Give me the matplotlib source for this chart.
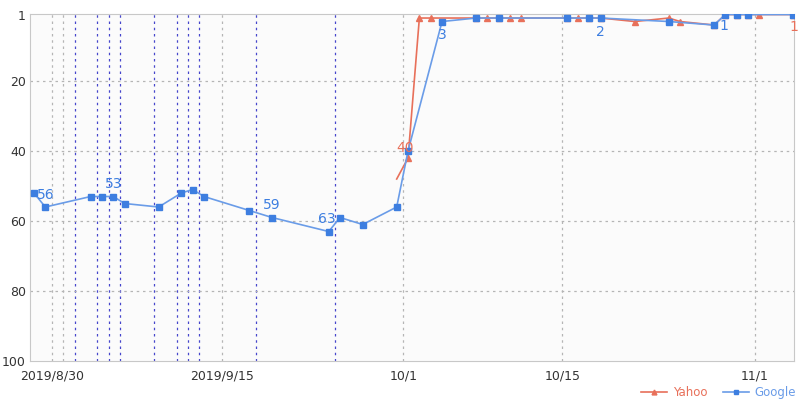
import matplotlib
matplotlib.use('Agg')
import matplotlib.pyplot as plt
import pandas as pd

start = pd.Timestamp('2019-08-30')

google_dates = ['2019-08-30', '2019-08-31', '2019-09-04', '2019-09-05', '2019-09-06', '2019-09-07',
                '2019-09-10', '2019-09-12', '2019-09-13', '2019-09-14', '2019-09-18', '2019-09-20',
                '2019-09-25', '2019-09-26', '2019-09-28', '2019-10-01', '2019-10-02', '2019-10-05',
                '2019-10-08', '2019-10-10', '2019-10-16', '2019-10-18', '2019-10-19', '2019-10-25',
                '2019-10-29', '2019-10-30', '2019-10-31', '2019-11-01', '2019-11-05']
google_rank = [52, 56, 53, 53, 53, 55,
               56, 52, 51, 53, 57, 59,
               63, 59, 61, 56, 40, 3,
               2, 2, 2, 2, 2, 3,
               4, 1, 1, 1, 1]

yahoo_dates = ['2019-10-01', '2019-10-02', '2019-10-03', '2019-10-04', '2019-10-08', '2019-10-09',
               '2019-10-10', '2019-10-11', '2019-10-12', '2019-10-16', '2019-10-17', '2019-10-18',
               '2019-10-19', '2019-10-22', '2019-10-25', '2019-10-26', '2019-10-29', '2019-10-30',
               '2019-10-31', '2019-11-01', '2019-11-02', '2019-11-05']
yahoo_rank = [48, 42, 2, 2, 2, 2,
              2, 2, 2, 2, 2, 2,
              2, 3, 2, 3, 4, 1,
              1, 1, 1, 1]

# data labels shown on the chart: (date, text)
google_labels = [('2019-08-31', '56'), ('2019-09-06', '53'), ('2019-09-20', '59'),
                 ('2019-09-25', '63'), ('2019-10-05', '3'), ('2019-10-19', '2'), ('2019-10-30', '1')]
yahoo_labels = [('2019-10-02', '40'), ('2019-11-05', '1')]

# blue dotted marker lines (update days)
event_dates = ['2019-09-02', '2019-09-04', '2019-09-05', '2019-09-06', '2019-09-09',
               '2019-09-11', '2019-09-12', '2019-09-13', '2019-09-18', '2019-09-25']
grid_dates = ['2019-08-31', '2019-09-01', '2019-09-15', '2019-10-01', '2019-10-15', '2019-11-01']
tick_dates = ['2019-08-31', '2019-09-15', '2019-10-01', '2019-10-15', '2019-11-01']
tick_labels = ['2019/8/30', '2019/9/15', '10/1', '10/15', '11/1']


def day(d):
    return (pd.Timestamp(d) - start).days


GRID_SHIFT = 0.6
c_google = '#3d7ee0'
c_google_line = '#6a9ce8'
c_yahoo = '#e8705a'

fig = plt.figure(figsize=(8, 4), dpi=100)
ax = fig.add_axes([30 / 800, 1 - 361 / 400, 764 / 800, (361 - 14) / 400])
ax.set_facecolor('#fbfbfb')

for d in grid_dates:
    ax.axvline(day(d) + GRID_SHIFT, color='#b5b5b5', lw=0.9, ls=(0, (2, 3)), zorder=1)
for d in event_dates:
    ax.axvline(day(d) + GRID_SHIFT, color='#4646cc', lw=0.9, ls=(0, (2, 3)), zorder=1)
for v in [20, 40, 60, 80]:
    ax.axhline(v, color='#b5b5b5', lw=0.9, ls=(0, (2, 3)), zorder=1)

yx = [day(d) for d in yahoo_dates]
gx = [day(d) for d in google_dates]
ax.plot(yx, yahoo_rank, color=c_yahoo, lw=1.2, marker='^', ms=5, mfc=c_yahoo, mec=c_yahoo,
        markevery=list(range(1, len(yx))), label='Yahoo', zorder=3)
ax.plot(gx, google_rank, color=c_google_line, lw=1.2, marker='s', ms=4.2, mfc=c_google, mec=c_google,
        label='Google', zorder=4)

gmap = dict(zip(google_dates, google_rank))
goff = {'56': (0, 9), '53': (0, 9), '59': (0, 9), '63': (-1, 9), '3': (0, -10), '2': (0, -10), '1': (-1, -8)}
for d, t in google_labels:
    dx, dy = goff[t]
    ax.annotate(t, (day(d), gmap[d]), xytext=(dx, dy), textcoords='offset points',
                ha='center', va='center', color=c_google, fontsize=10, zorder=5)
ymap = dict(zip(yahoo_dates, yahoo_rank))
yoff = {'40': (-2, 7), '1': (0, -9)}
for d, t in yahoo_labels:
    dx, dy = yoff[t]
    ax.annotate(t, (day(d), ymap[d]), xytext=(dx, dy), textcoords='offset points',
                ha='center', va='center', color=c_yahoo, fontsize=10, zorder=5)

ax.set_ylim(100, 0.85)
ax.set_xlim(-0.35, 67.05)
ax.set_yticks([1, 20, 40, 60, 80, 100])
ax.set_xticks([day(d) + GRID_SHIFT for d in tick_dates])
ax.set_xticklabels(tick_labels)
ax.tick_params(length=0, labelsize=9, colors='#333333')
ax.tick_params(axis='x', pad=6)
ax.tick_params(axis='y', pad=3)
for s in ['left', 'bottom', 'top', 'right']:
    ax.spines[s].set_color('#c8c8c8')

fig.legend(loc='lower right', bbox_to_anchor=(0.995, 0.002), ncol=2, frameon=False, fontsize=8.5,
           labelcolor='linecolor', handlelength=2.2, columnspacing=1.3, handletextpad=0.5,
           markerscale=0.7, borderpad=0.0, borderaxespad=0.0)

fig.savefig('out.png', dpi=100)
